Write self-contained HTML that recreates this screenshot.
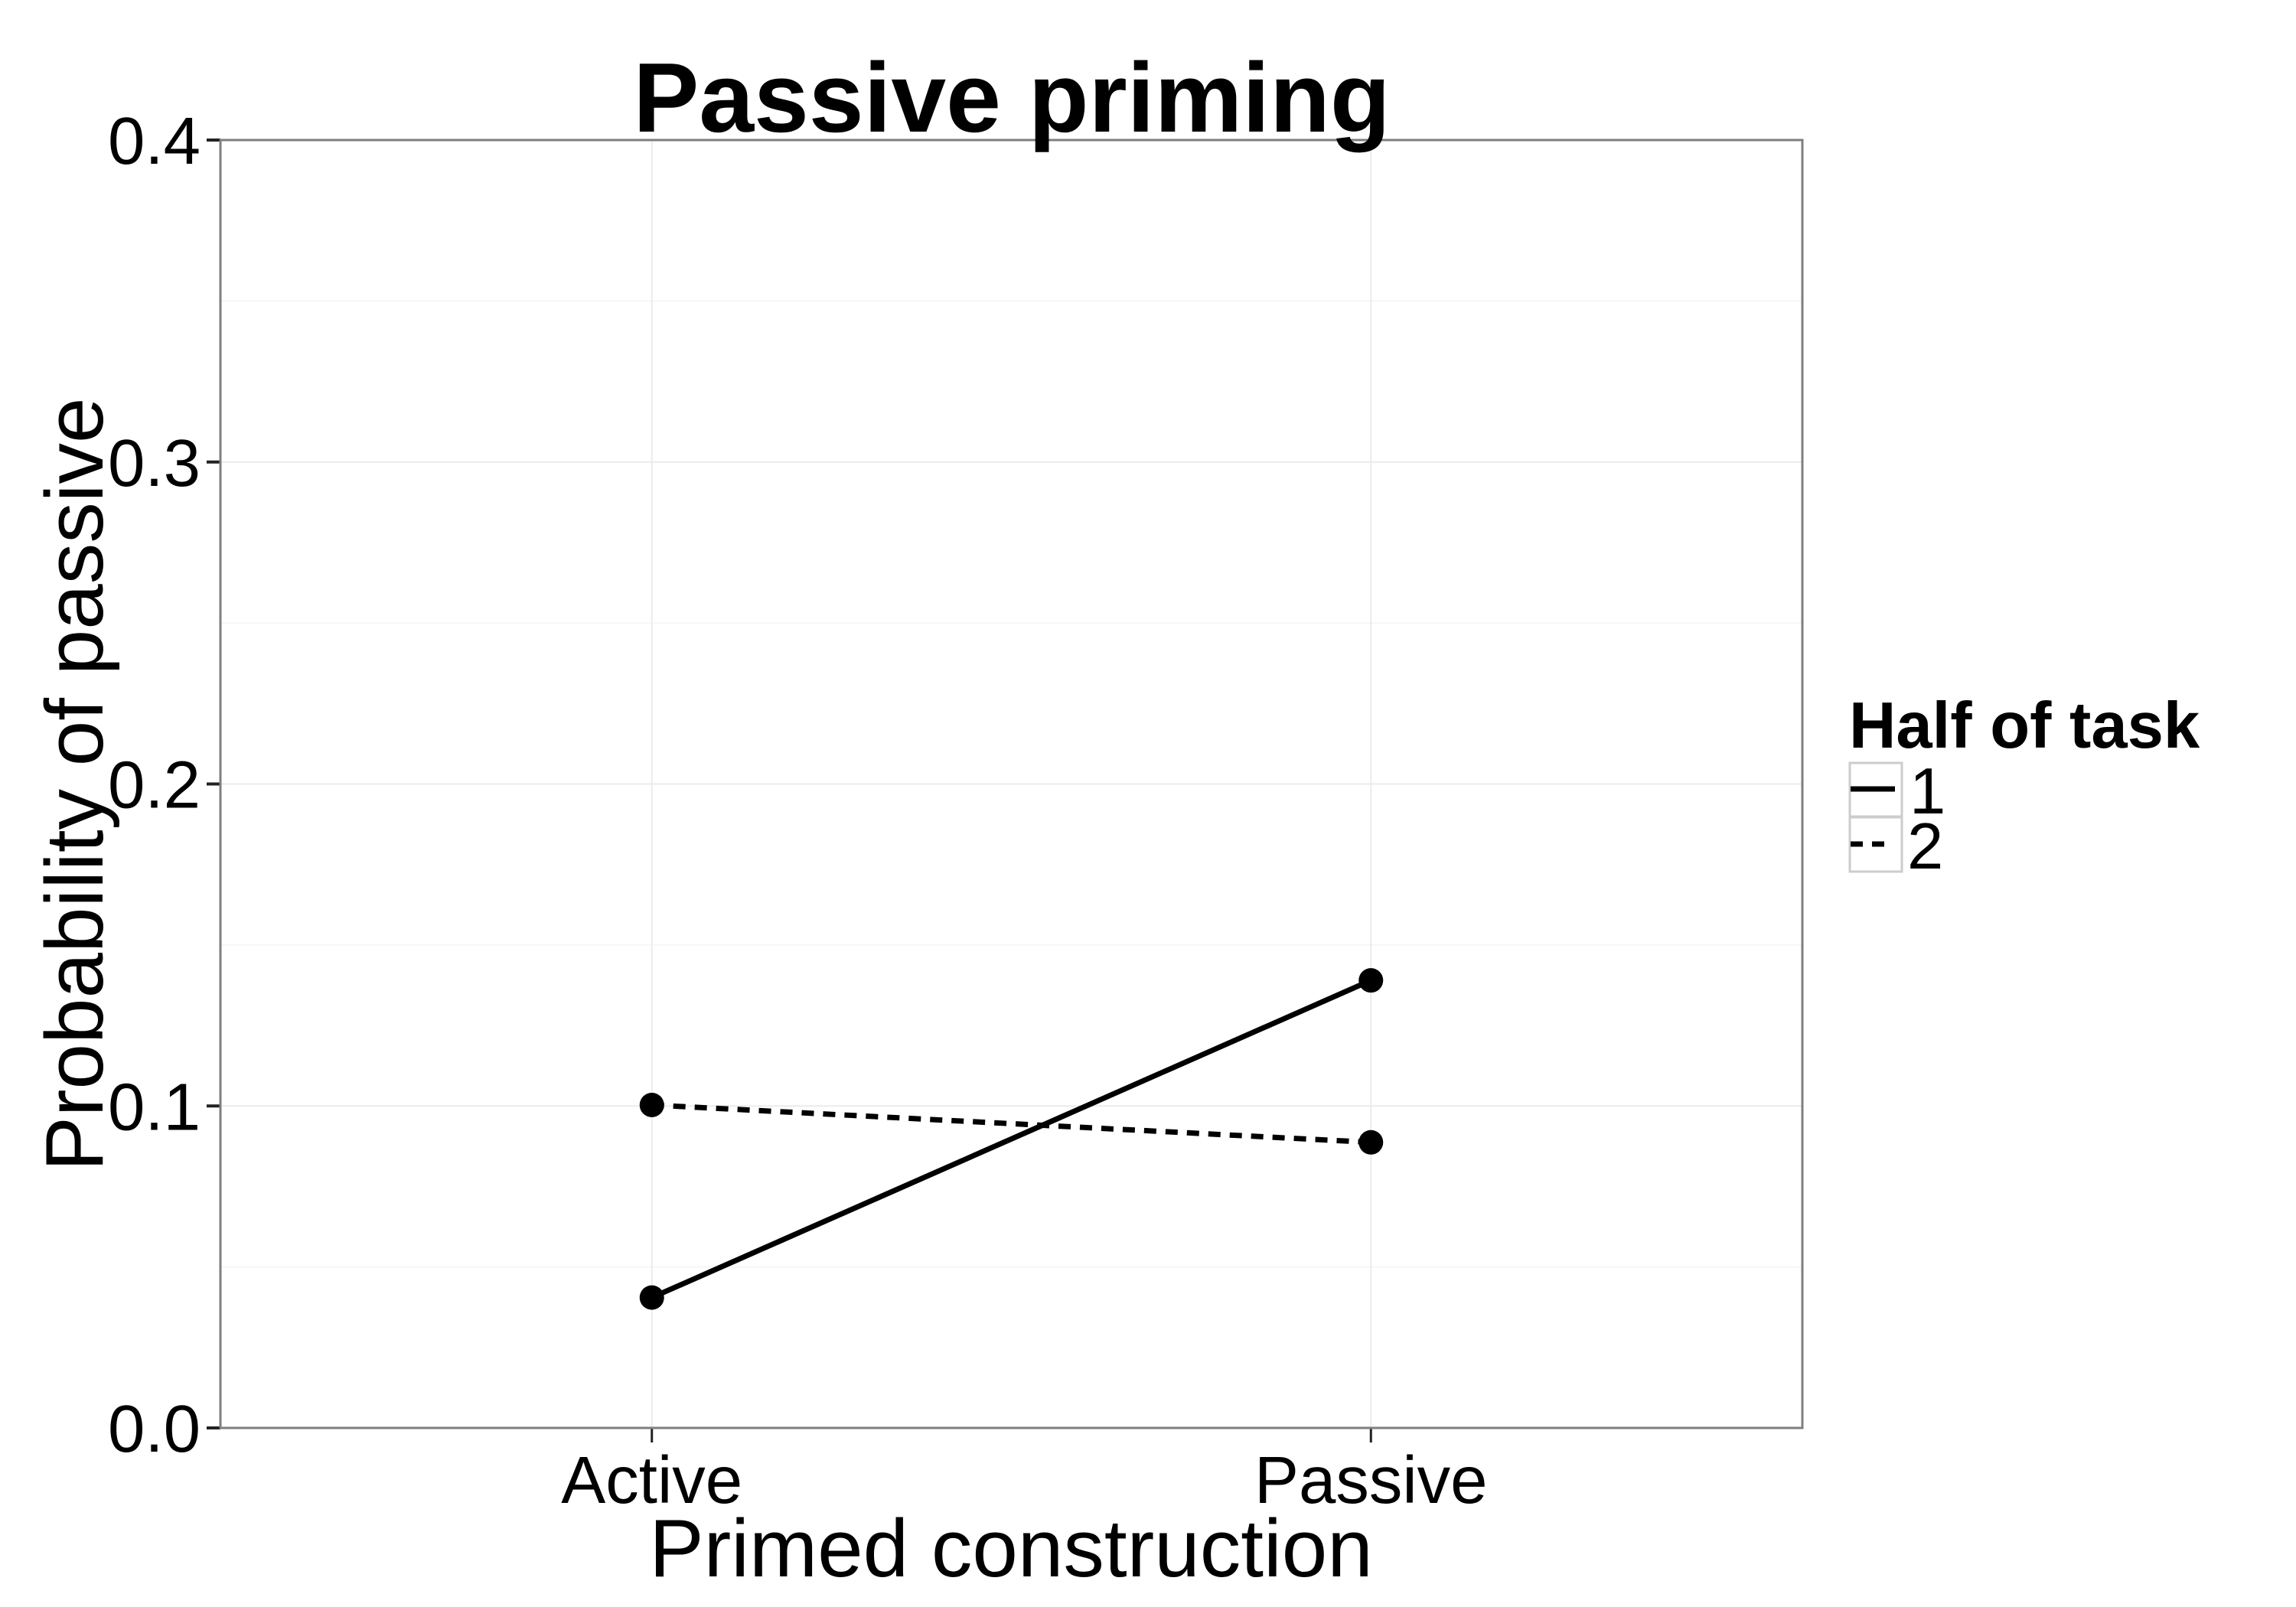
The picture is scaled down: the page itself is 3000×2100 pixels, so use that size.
<!DOCTYPE html>
<html><head><meta charset="utf-8"><style>
html,body{margin:0;padding:0;background:#fff;}
svg{display:block;font-family:"Liberation Sans",sans-serif;}
</style></head><body>
<svg id="chart" width="3000" height="2100" viewBox="0 0 3000 2100" xmlns="http://www.w3.org/2000/svg">
<rect x="0" y="0" width="3000" height="2100" fill="#fff"/>
<g id="grid"></g>
<g id="marks"></g>
<g id="axes"></g>
<text x="1322" y="172" font-size="129" font-weight="bold" text-anchor="middle">Passive priming</text>
<text x="1321" y="2060" font-size="107" text-anchor="middle">Primed construction</text>
<text transform="translate(134,1025) rotate(-90)" font-size="107" text-anchor="middle">Probability of passive</text>
<g>
<text x="2416" y="977" font-size="85" font-weight="bold">Half of task</text>
<g>
<rect x="2417" y="997" width="68" height="70" fill="#fff" stroke="#ccc" stroke-width="3"/>
<line x1="2418" y1="1031" x2="2476" y2="1031" stroke="#000" stroke-width="7"/>
<text x="2495" y="1063" font-size="85">1</text>
</g>
<g>
<rect x="2417" y="1068" width="68" height="71" fill="#fff" stroke="#ccc" stroke-width="3"/>
<line x1="2418" y1="1103" x2="2474" y2="1103" stroke="#000" stroke-width="7" stroke-dasharray="16,12"/>
<text x="2492" y="1135" font-size="85">2</text>
</g>
</g>
</svg>
<script>
const categories = ["Active", "Passive"];
const half1Values = [0.0405, 0.139];
const half2Values = [0.1003, 0.0887];
const yTicks = [0, 0.1, 0.2, 0.3, 0.4];
const yTickLabels = ["0.0", "0.1", "0.2", "0.3", "0.4"];

const NS = "http://www.w3.org/2000/svg";
const PL = 288, PR = 2355, PT = 183, PB = 1866;
function xScale(i){ return PL + (i + 1 - 0.4) / 2.2 * (PR - PL); }
function yScale(v){ return PB - v / 0.4 * (PB - PT); }
function mk(tag, attrs, parent){
  const e = document.createElementNS(NS, tag);
  for (const k in attrs) e.setAttribute(k, attrs[k]);
  parent.appendChild(e);
  return e;
}
const grid = document.getElementById('grid');
const marks = document.getElementById('marks');
const axes = document.getElementById('axes');

for (let i = 0; i < yTicks.length - 1; i++) {
  const v = (yTicks[i] + yTicks[i+1]) / 2;
  const l = mk('line', {x1: PL, x2: PR, y1: yScale(v), y2: yScale(v), stroke: '#f7f7f7', 'stroke-width': 2}, grid);
  
  
}
yTicks.forEach((v, i) => {
  const l = mk('line', {x1: PL, x2: PR, y1: yScale(v), y2: yScale(v), stroke: '#ebebeb', 'stroke-width': 2}, grid);
  
  
  const t = mk('line', {x1: 270, x2: PL, y1: yScale(v), y2: yScale(v), stroke: '#222', 'stroke-width': 4}, axes);
  
  
  const tx = mk('text', {x: 262, y: yScale(v) + 31, 'font-size': 87, 'text-anchor': 'end'}, axes);
  tx.textContent = yTickLabels[i];
  
  
});
categories.forEach((c, i) => {
  const l = mk('line', {x1: xScale(i), x2: xScale(i), y1: PT, y2: PB, stroke: '#ebebeb', 'stroke-width': 2}, grid);
  
  
  const t = mk('line', {x1: xScale(i), x2: xScale(i), y1: PB, y2: PB + 19, stroke: '#222', 'stroke-width': 3}, axes);
  
  
  const tx = mk('text', {x: xScale(i), y: 1964, 'font-size': 87, 'text-anchor': 'middle'}, axes);
  tx.textContent = c;
  
  
});
const border = mk('rect', {x: PL, y: PT, width: PR - PL, height: PB - PT, fill: 'none', stroke: '#7f7f7f', 'stroke-width': 3}, axes);



function series(vals, dash, name){
  const pts = vals.map((v, i) => xScale(i) + ',' + yScale(v)).join(' ');
  const attrs = {points: pts, fill: 'none', stroke: '#000', 'stroke-width': 7};
  if (dash) attrs['stroke-dasharray'] = '16,12';
  const pl = mk('polyline', attrs, marks);
  
  
  vals.forEach((v, i) => {
    const c = mk('circle', {cx: xScale(i), cy: yScale(v), r: 16, fill: '#000'}, marks);
    
    
  });
}
series(half1Values, false, 'half-1');
series(half2Values, true, 'half-2');
</script>
</body></html>
